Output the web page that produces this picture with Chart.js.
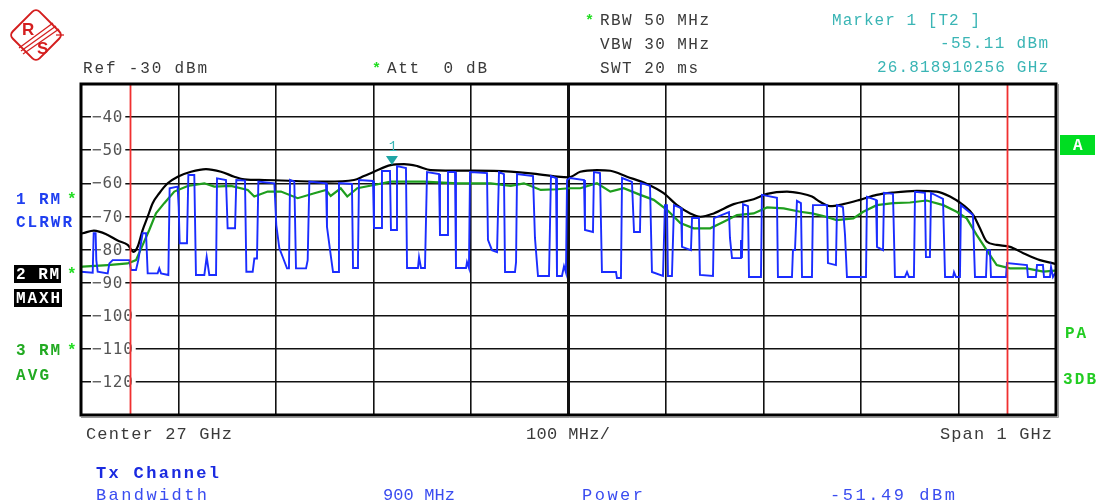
<!DOCTYPE html>
<html>
<head>
<meta charset="utf-8">
<script src="https://cdn.jsdelivr.net/npm/chart.js@4.4.1/dist/chart.umd.min.js"></script>
<style>
  html, body { margin: 0; padding: 0; background: #fff; }
  #wrap { position: relative; width: 1097px; height: 502px; overflow: hidden; }
  #c { position: absolute; left: 0; top: 0; }
  svg.ov { position: absolute; left: 0; top: 0; pointer-events: none; }
  .mono { font-family: "Liberation Mono", "DejaVu Sans Mono", monospace; }
</style>
</head>
<body>
<div id="wrap">
  <canvas id="c" width="1097" height="502"></canvas>
  <svg class="ov mono" width="1097" height="502" xmlns="http://www.w3.org/2000/svg">
    <!-- logo -->
    <g stroke="#d41f1f" fill="none">
      <rect x="17" y="16" width="38" height="38" rx="5" stroke-width="2" transform="rotate(45 36 35)"/>
      <line x1="19" y1="48" x2="53" y2="23" stroke-width="1.3"/>
      <line x1="21" y1="51" x2="56" y2="26" stroke-width="1.3"/>
      <line x1="23" y1="54" x2="59" y2="29" stroke-width="1.3"/>
      <line x1="56" y1="35" x2="64" y2="35" stroke-width="1.3"/>
    </g>
    <text x="22" y="35" fill="#d41f1f" font-size="17" font-weight="bold" font-family="Liberation Sans, sans-serif">R</text>
    <text x="37" y="54" fill="#d41f1f" font-size="17" font-weight="bold" font-family="Liberation Sans, sans-serif">S</text>

    <!-- header -->
    <g font-size="16" fill="#3a3a3a">
      <text x="83" y="73" textLength="124" lengthAdjust="spacing">Ref -30 dBm</text>
      <text x="387" y="73" textLength="100" lengthAdjust="spacing" xml:space="preserve">Att  0 dB</text>
      <text x="600" y="25" textLength="109" lengthAdjust="spacing">RBW 50 MHz</text>
      <text x="600" y="49" textLength="109" lengthAdjust="spacing">VBW 30 MHz</text>
      <text x="600" y="73" textLength="98" lengthAdjust="spacing">SWT 20 ms</text>
    </g>
    <g font-size="15" fill="#22dd22" font-weight="bold">
      <text x="372" y="73">*</text>
      <text x="585" y="25">*</text>
    </g>
    <g font-size="16" fill="#3ab5b5">
      <text x="832" y="25" textLength="148" lengthAdjust="spacing" xml:space="preserve">Marker 1 [T2 ]</text>
      <text x="940" y="48" textLength="108" lengthAdjust="spacing">-55.11 dBm</text>
      <text x="877" y="72" textLength="171" lengthAdjust="spacing">26.818910256 GHz</text>
    </g>

    <!-- left trace labels -->
    <g font-size="16" font-weight="bold">
      <text x="16" y="204" fill="#1f3ff0" textLength="44" lengthAdjust="spacing">1 RM</text>
      <text x="16" y="227" fill="#1f3ff0" textLength="56" lengthAdjust="spacing">CLRWR</text>
      <rect x="14" y="265" width="47" height="18" fill="#000"/>
      <text x="16" y="279" fill="#fff" textLength="43" lengthAdjust="spacing">2 RM</text>
      <rect x="14" y="289" width="48" height="18" fill="#000"/>
      <text x="16" y="303" fill="#fff" textLength="44" lengthAdjust="spacing">MAXH</text>
      <text x="16" y="355" fill="#22aa22" textLength="44" lengthAdjust="spacing">3 RM</text>
      <text x="16" y="380" fill="#22aa22" textLength="33" lengthAdjust="spacing">AVG</text>
      <text x="67" y="204" fill="#22dd22">*</text>
      <text x="67" y="279" fill="#22dd22">*</text>
      <text x="67" y="355" fill="#22dd22">*</text>
      <rect x="1060" y="135" width="35" height="20" fill="#00dd22"/>
      <text x="1073" y="150" fill="#fff">A</text>
      <text x="1065" y="338" fill="#22cc22" textLength="21" lengthAdjust="spacing">PA</text>
      <text x="1063" y="384" fill="#22cc22" textLength="33" lengthAdjust="spacing">3DB</text>
    </g>

    <!-- footer -->
    <g font-size="17" fill="#3a3a3a">
      <text x="86" y="439" textLength="146" lengthAdjust="spacing">Center 27 GHz</text>
      <text x="526" y="439" textLength="84" lengthAdjust="spacing">100 MHz/</text>
      <text x="940" y="439" textLength="112" lengthAdjust="spacing">Span 1 GHz</text>
    </g>
    <g font-size="17" fill="#3a4cf0">
      <text x="96" y="478" fill="#1a2ae0" font-weight="bold" textLength="123" lengthAdjust="spacing">Tx Channel</text>
      <text x="96" y="500" textLength="111" lengthAdjust="spacing">Bandwidth</text>
      <text x="383" y="500" textLength="72" lengthAdjust="spacing">900 MHz</text>
      <text x="582" y="500" textLength="61" lengthAdjust="spacing">Power</text>
      <text x="830" y="500" textLength="125" lengthAdjust="spacing">-51.49 dBm</text>
    </g>
  </svg>
</div>
<script>
// ---- Data (x: MHz offset from 26.5 GHz start, y: dBm) ----
const yTickValues = [-40, -50, -60, -70, -80, -90, -100, -110, -120];
const yTickLabels = ["\u221240", "\u221250", "\u221260", "\u221270", "\u221280", "\u221290", "\u2212100", "\u2212110", "\u2212120"];
const channelLimitsMHz = [50, 950];
const markerFreqMHz = 318.91;
const markerLevel = -55.11;

// Trace 1: clear/write (blue)
const clrwrFreq = [0,12.0,13.0,15.0,15.7,17.1,27.4,29.1,32.5,49.6,51.3,56.4,58.8,61.5,63.2,66.7,68.4,78.6,80.3,82.1,89.6,90.9,99.1,100.2,101.2,108.7,110.1,116.2,117.9,126.5,128.9,131.6,138.5,139.5,148.7,150.4,158.0,159.3,168.2,169.6,176.1,177.8,180.5,181.9,198.3,200.3,203.4,206.8,211.3,213.3,214.4,218.8,220.5,230.8,232.5,234.2,251.3,
252.3,256.4,258.5,263.6,264.6,277.9,279.0,283.1,284.1,285.1,299.5,300.5,307.7,308.7,316.9,317.9,323.1,324.1,333.3,334.4,345.6,346.7,348.7,352.8,354.9,367.2,368.2,375.4,376.4,383.6,384.6,394.9,395.9,397.9,399.0,416.4,417.4,421.5,426.7,428.7,433.8,434.9,445.1,446.2,447.2,463.6,465.6,468.7,480.0,482.0,487.2,488.2,493.3,495.4,497.4,498.5,
501.5,515.9,516.9,525.1,526.1,532.3,534.3,548.7,549.7,553.8,554.9,565.1,567.2,573.3,574.3,583.6,585.6,596.9,598.9,601.0,602.0,606.1,608.2,615.4,616.4,625.6,626.7,633.8,634.8,648.2,649.2,664.6,665.6,667.7,675.9,676.9,677.9,679.0,684.1,685.1,697.4,698.4,713.8,714.8,729.2,730.2,732.3,734.3,738.4,739.5,748.7,
749.7,750.7,765.1,766.1,774.3,775.4,781.5,783.6,785.6,805.1,806.1,815.4,816.4,822.6,823.6,832.8,834.8,845.1,847.2,849.2,854.3,855.4,865.6,866.6,870.7,871.8,884.1,886.2,894.4,895.4,897.4,901.5,902.5,914.8,916.9,928.2,929.2,932.3,933.3,948.7,949.7,970.2,971.2,979.4,980.5,986.6,987.7,993.8,994.9,996.9,1000];
const clrwrLevel = [-86.7,-87.0,-75.1,-75.1,-83.2,-86.7,-87.2,-84.2,-83.2,-83.2,-86.2,-86.2,-83.2,-78.1,-75.1,-75.1,-87.2,-87.2,-85.7,-87.2,-87.7,-61.5,-61.0,-67.1,-78.1,-78.1,-57.5,-57.5,-87.7,-87.7,-82.2,-87.7,-87.7,-58.5,-59.0,-73.6,-73.6,-59.0,-59.2,-86.7,-86.7,-82.7,-82.7,-59.5,-60.0,-72.6,-79.6,-82.2,-85.7,-85.7,-59.0,-59.5,-85.7,-85.7,-83.2,-59.5,-60.0,
-73.2,-82.3,-86.8,-86.8,-59.9,-60.2,-85.6,-85.6,-82.6,-59.0,-59.3,-73.5,-73.5,-56.3,-56.3,-74.1,-74.1,-54.8,-55.4,-85.6,-85.6,-82.3,-85.6,-85.6,-56.6,-57.2,-75.6,-75.6,-56.6,-56.6,-85.6,-85.6,-83.8,-85.6,-56.6,-56.9,-77.1,-80.2,-80.8,-56.6,-57.2,-86.8,-86.8,-83.8,-57.2,-57.8,-76.5,-88.0,-88.0,-57.8,-58.4,-88.0,-88.0,-85.0,-87.0,-59.0,
-58.4,-59.0,-74.1,-74.7,-56.6,-56.9,-86.8,-86.8,-88.6,-88.6,-58.4,-59.6,-74.7,-74.7,-59.9,-60.8,-86.8,-88.0,-66.6,-66.6,-88.0,-88.0,-66.6,-67.5,-79.2,-80.2,-70.5,-70.5,-87.7,-88.0,-70.5,-68.7,-76.5,-82.6,-82.6,-77.1,-82.6,-66.3,-66.9,-88.3,-88.3,-63.5,-64.4,-88.3,-88.3,-80.2,-80.2,-65.3,-66.0,-88.3,-88.3,
-88.3,-66.6,-66.6,-84.1,-84.7,-66.6,-67.2,-75.6,-88.3,-88.3,-64.1,-65.0,-79.2,-80.2,-62.9,-63.2,-88.3,-88.3,-86.8,-88.3,-88.3,-62.6,-62.9,-82.3,-82.3,-62.9,-64.7,-88.3,-88.3,-86.8,-88.3,-88.3,-66.6,-69.6,-88.3,-88.3,-80.2,-80.2,-88.3,-88.3,-84.1,-84.7,-88.3,-88.3,-84.7,-84.7,-88.3,-88.3,-85.3,-88.3,-86.8];

// Trace 2: max hold (black)
const maxhFreq = [0,1.7,13.3,27.4,37.6,47.9,54.0,58.2,63.3,68.4,73.5,80.3,88.9,99.2,112.8,128.2,143.6,157.2,167.5,188.0,251.3,280.0,290.2,300.5,317.6,331.3,344.9,358.7,403.1,440.7,461.2,488.5,500.5,512.1,529.2,542.9,560.0,580.5,597.6,611.3,624.9,635.2,648.9,669.4,689.9,703.6,724.1,737.7,749.7,757.9,768.2,781.8,798.9,816.1,833.1,857.1,877.6,891.3,904.9,915.2,922.0,928.9,939.2,952.8,966.5,983.6,997.2,1000];
const maxhLevel = [-75.2,-75.1,-74.3,-75.6,-77.3,-78.6,-80.7,-79.1,-74.1,-70.1,-66.0,-63.0,-60.0,-58.0,-56.5,-55.7,-56.5,-58.0,-58.8,-59.0,-59.5,-59.0,-57.8,-56.5,-54.5,-54.2,-54.8,-56.0,-56.2,-56.5,-57.0,-58.0,-58.2,-56.5,-56.0,-56.2,-58.0,-60.2,-63.0,-66.6,-69.1,-70.1,-69.1,-66.3,-64.8,-63.2,-62.5,-63.0,-64.0,-65.6,-66.9,-66.3,-65.0,-63.5,-62.8,-62.3,-62.5,-64.0,-66.6,-69.6,-73.6,-77.6,-78.6,-79.2,-81.1,-83.2,-84.2,-84.4];

// Trace 3: average (green)
const avgFreq = [0,1.7,27.4,47.9,56.4,63.3,70.0,76.9,85.4,95.7,109.4,126.5,136.7,153.8,171.0,177.7,191.5,205.1,222.2,239.3,251.3,256.1,266.4,273.1,283.4,300.5,317.6,351.8,385.9,420.2,440.7,454.3,471.5,488.5,500.5,512.1,529.2,542.9,556.6,573.6,587.4,601.0,614.7,628.4,645.4,659.2,672.8,689.9,703.6,720.7,737.7,749.7,761.3,775.0,792.1,802.3,816.1,833.1,850.2,867.3,884.4,898.1,908.4,918.6,928.9,939.2,952.8,969.9,987.0,999.0,1000];
const avgLevel = [-85.3,-85.2,-84.7,-84.2,-83.2,-78.6,-74.1,-69.1,-66.0,-62.5,-60.8,-60.0,-61.0,-60.8,-62.0,-64.0,-62.5,-62.5,-64.5,-63.0,-62.0,-63.8,-61.5,-64.0,-61.5,-60.5,-59.5,-59.5,-60.0,-60.0,-60.8,-60.0,-62.0,-61.8,-61.5,-61.5,-60.0,-62.5,-61.5,-63.5,-65.0,-68.0,-72.0,-73.6,-73.6,-71.6,-69.6,-69.1,-67.3,-67.6,-68.6,-69.1,-69.9,-71.1,-70.6,-68.6,-66.6,-66.0,-65.8,-65.2,-66.6,-68.6,-70.6,-75.6,-80.2,-84.7,-85.7,-85.7,-86.7,-86.4,-86.4];

const toPts = (xs, ys) => xs.map((x, i) => ({ x: x, y: ys[i] }));

const overlayPlugin = {
  id: 'overlay',
  beforeDraw(chart) {
    const c = chart.ctx;
    c.save(); c.fillStyle = '#fff'; c.fillRect(0, 0, chart.width, chart.height); c.restore();
  },
  beforeDatasetsDraw(chart) {
    const c = chart.ctx, ys = chart.scales.y, a = chart.chartArea;
    c.save();
    c.font = '16px "DejaVu Sans Mono", monospace';
    try { c.letterSpacing = '0.8px'; } catch (e) {}
    c.textBaseline = 'middle';
    yTickValues.forEach((v, i) => {
      const y = ys.getPixelForValue(v);
      const w = c.measureText(yTickLabels[i]).width;
      c.fillStyle = '#fff';
      c.fillRect(a.left + 10, y - 8, w + 3, 16);
      c.fillStyle = '#555';
      c.fillText(yTickLabels[i], a.left + 11, y + 1);
    });
    c.restore();
  },
  afterDatasetsDraw(chart) {
    const c = chart.ctx, xs = chart.scales.x, ys = chart.scales.y, a = chart.chartArea;
    c.save();
    // channel limit lines
    c.strokeStyle = '#f03030'; c.lineWidth = 1.8;
    channelLimitsMHz.forEach(f => {
      const x = Math.round(xs.getPixelForValue(f)) + 0.5;
      c.beginPath(); c.moveTo(x, a.top); c.lineTo(x, a.bottom); c.stroke();
    });
    // frame
    c.strokeStyle = '#000'; c.lineWidth = 3;
    c.strokeRect(a.left, a.top, a.right - a.left, a.bottom - a.top);
    c.strokeStyle = '#999'; c.lineWidth = 1;
    c.beginPath(); c.moveTo(a.left, a.bottom + 2.5); c.lineTo(a.right + 2.5, a.bottom + 2.5); c.lineTo(a.right + 2.5, a.top); c.stroke();
    // marker
    const mx = xs.getPixelForValue(markerFreqMHz), my = ys.getPixelForValue(markerLevel);
    c.fillStyle = '#1fa5a5';
    c.beginPath(); c.moveTo(mx - 6, my - 11); c.lineTo(mx + 6, my - 11); c.lineTo(mx, my - 2); c.closePath(); c.fill();
    c.font = '14px "Liberation Mono", monospace';
    c.fillStyle = '#3ab5b5'; c.textAlign = 'center'; c.textBaseline = 'middle';
    c.fillText('1', mx + 1, my - 20);
    c.restore();
  }
};

new Chart(document.getElementById('c'), {
  type: 'scatter',
  data: {
    datasets: [
      { label: '1 RM CLRWR', data: toPts(clrwrFreq, clrwrLevel), showLine: true, borderColor: '#1a2cff', borderWidth: 1.9, pointRadius: 0, tension: 0, order: 0 },
      { label: '2 RM MAXH', data: toPts(maxhFreq, maxhLevel), showLine: true, borderColor: '#000', borderWidth: 2.2, pointRadius: 0, tension: 0.3, cubicInterpolationMode: 'monotone', order: 1 },
      { label: '3 RM AVG', data: toPts(avgFreq, avgLevel), showLine: true, borderColor: '#1e9e1e', borderWidth: 2.2, pointRadius: 0, tension: 0, order: 2 }
    ]
  },
  options: {
    responsive: false,
    devicePixelRatio: 1,
    animation: false,
    events: [],
    layout: { padding: { left: 81, top: 84, right: 41, bottom: 87 } },
    plugins: { legend: { display: false }, tooltip: { enabled: false }, title: { display: false } },
    scales: {
      x: {
        type: 'linear', min: 0, max: 1000,
        ticks: { display: false, stepSize: 100 },
        border: { display: false },
        grid: { color: '#111', lineWidth: ctx => (ctx.tick && ctx.tick.value === 500 ? 3 : 1.6), drawTicks: false },
        afterFit: s => { s.height = 0; }
      },
      y: {
        type: 'linear', min: -130, max: -30,
        ticks: { display: false, stepSize: 10 },
        border: { display: false },
        grid: { color: '#111', lineWidth: 1.6, drawTicks: false },
        afterFit: s => { s.width = 0; }
      }
    }
  },
  plugins: [overlayPlugin]
});
</script>
</body>
</html>
